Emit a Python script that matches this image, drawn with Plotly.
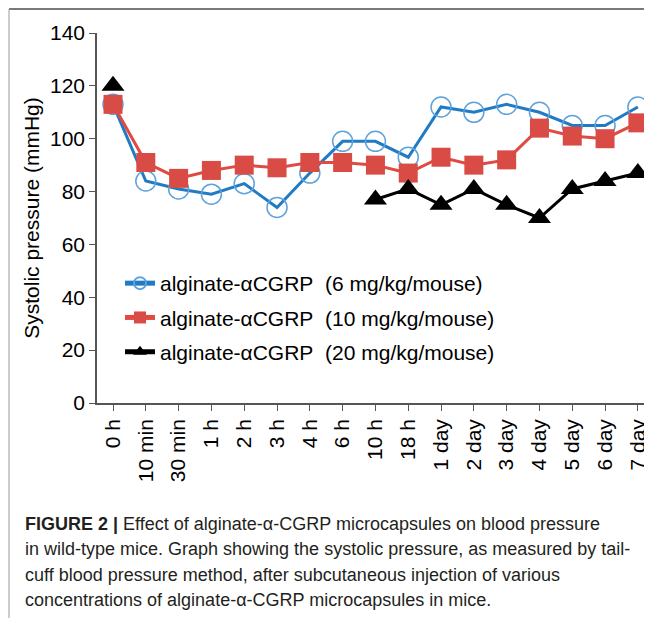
import plotly.graph_objects as go

categories = ["0 h", "10 min", "30 min", "1 h", "2 h", "3 h", "4 h", "6 h", "10 h", "18 h",
              "1 day", "2 day", "3 day", "4 day", "5 day", "6 day", "7 day"]
dose6 = [113, 84, 81, 79, 83, 74, 87, 99, 99, 93, 112, 110, 113, 110, 105, 105, 112]
dose10 = [113, 91, 85, 88, 90, 89, 91, 91, 90, 87, 93, 90, 92, 104, 101, 100, 106]
dose20 = [120, None, None, None, None, None, None, None, 77, 81, 75, 81, 75, 70, 81, 84, 87]
names = ["alginate-\u03b1CGRP\u00a0\u00a0(6 mg/kg/mouse)",
         "alginate-\u03b1CGRP\u00a0\u00a0(10 mg/kg/mouse)",
         "alginate-\u03b1CGRP\u00a0\u00a0(20 mg/kg/mouse)"]
ytick_vals = [0, 20, 40, 60, 80, 100, 120, 140]
caption_lines = [
    "<b>FIGURE 2 |</b> Effect of alginate-\u03b1-CGRP microcapsules on blood pressure",
    "in wild-type mice. Graph showing the systolic pressure, as measured by tail-",
    "cuff blood pressure method, after subcutaneous injection of various",
    "concentrations of alginate-\u03b1-CGRP microcapsules in mice.",
]

# page body has an 8px margin, so the figure is 8px smaller and offset
W, H = 644, 610
L, R, T, B = 89, 2, 25, 215
pw, ph = W - L - R, H - T - B
XR = [-0.488, 16.37]

def px_to_paper_x(px):
    return (px - L) / pw

def px_to_paper_y(py):
    return (H - B - py) / ph

fig = go.Figure()
fig.add_trace(go.Scatter(x=categories, y=dose6, name=names[0], mode="lines+markers",
                         legendgroup="a",
                         line=dict(color="#1f7bc4", width=3),
                         marker=dict(symbol="circle-open", size=20, color="#5da2dc",
                                     line=dict(width=1.5, color="#5da2dc"))))
fig.add_trace(go.Scatter(x=categories, y=dose10, name=names[1], mode="lines+markers",
                         legendgroup="b",
                         line=dict(color="#e04a42", width=3),
                         marker=dict(symbol="square", size=19, color="#d94b45")))
fig.add_trace(go.Scatter(x=categories, y=dose20, name=names[2], mode="lines+markers",
                         legendgroup="c", connectgaps=False,
                         line=dict(color="#000000", width=3),
                         marker=dict(symbol="triangle-up", size=20, color="#000000")))

annotations = []
for i, line in enumerate(caption_lines):
    annotations.append(dict(text=line, xref="paper", yref="paper",
                            x=px_to_paper_x(15), y=px_to_paper_y(516 + i * 25.3),
                            xanchor="left", yanchor="middle", align="left", showarrow=False,
                            font=dict(family="Liberation Sans, Arial", size=18, color="#231f20")))

fig.update_layout(
    width=W, height=H,
    margin=dict(l=L, r=R, t=T, b=B),
    paper_bgcolor="white", plot_bgcolor="white",
    font=dict(family="Liberation Sans, Arial, sans-serif", size=21, color="black"),
    showlegend=True,
    legend=dict(x=px_to_paper_x(112), y=px_to_paper_y(255), xanchor="left", yanchor="top",
                bgcolor="rgba(0,0,0,0)", font=dict(size=21), tracegroupgap=4,
                itemsizing="constant"),
    xaxis=dict(type="category", range=XR, showgrid=False, zeroline=False,
               showline=True, linecolor="#555555", linewidth=1.5,
               ticks="outside", ticklen=6, tickcolor="#555555", tickangle=-90,
               tickfont=dict(size=21), automargin=False),
    yaxis=dict(range=[0, 140], tickvals=ytick_vals, showgrid=False, zeroline=False,
               showline=True, linecolor="#555555", linewidth=1.5,
               ticks="outside", ticklen=6, tickcolor="#555555",
               tickfont=dict(size=21), automargin=False, ticksuffix="\u00a0",
               title=dict(text="Systolic pressure (mmHg)", font=dict(size=21), standoff=5)),
    annotations=annotations,
    shapes=[
        dict(type="line", xref="paper", yref="paper", x0=px_to_paper_x(1), x1=px_to_paper_x(W),
             y0=px_to_paper_y(1), y1=px_to_paper_y(1), line=dict(color="#7a7a7a", width=2)),
        dict(type="line", xref="paper", yref="paper", x0=px_to_paper_x(1), x1=px_to_paper_x(1),
             y0=px_to_paper_y(1), y1=px_to_paper_y(H), line=dict(color="#9a9a9a", width=1)),
    ],
)

fig.write_html("out.html")
